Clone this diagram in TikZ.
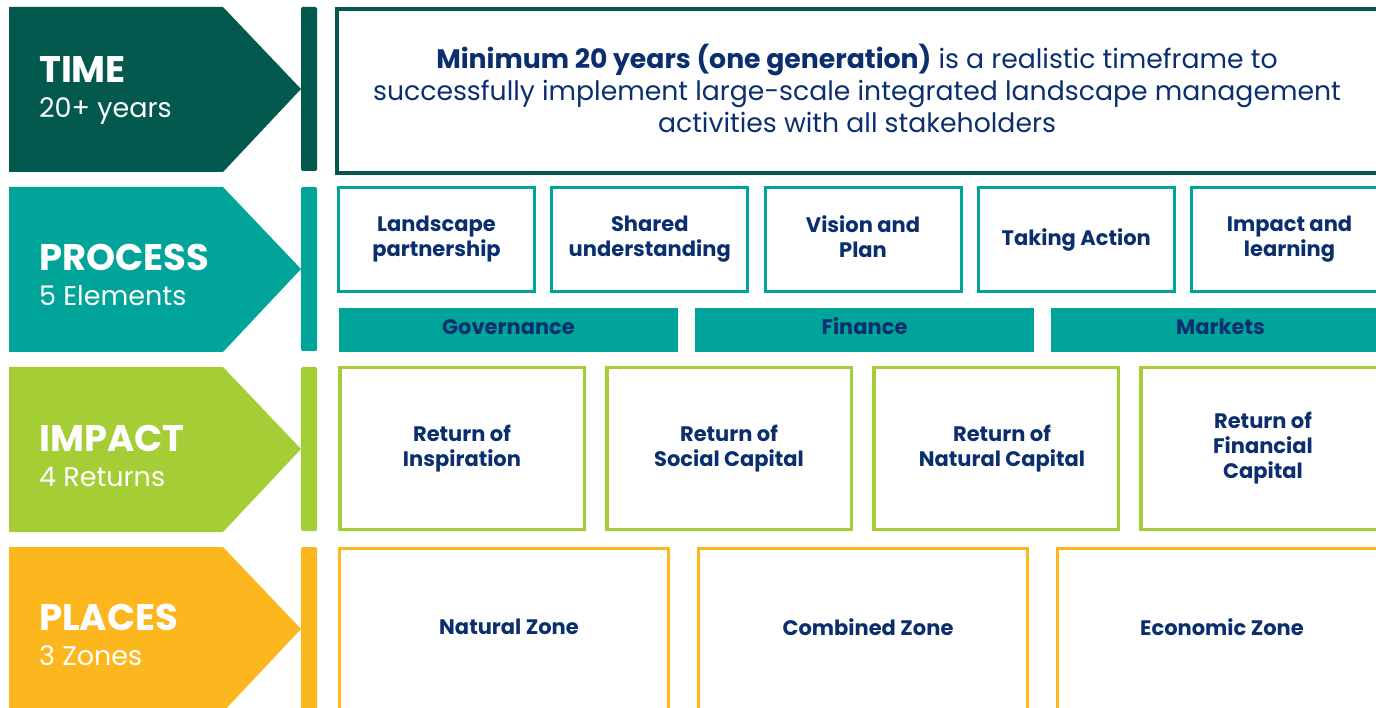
\documentclass[tikz,border=0pt]{standalone}
\usepackage{fontspec}
\setmainfont{Poppins}
\usepackage{tikz}
\usetikzlibrary{positioning}
\definecolor{timegreen}{HTML}{03594E}
\definecolor{processteal}{HTML}{00A499}
\definecolor{impactlime}{HTML}{A4CD36}
\definecolor{placesyellow}{HTML}{FDB71E}
\definecolor{textnavy}{HTML}{0B2E6F}

\begin{document}
\begin{tikzpicture}[x=1pt,y=-1pt,
  rowtitle/.style={anchor=base west,inner sep=0pt,text=white,font=\bfseries\fontsize{37}{40}\selectfont},
  rowsub/.style={anchor=base west,inner sep=0pt,text=white,font=\fontsize{27}{30}\selectfont},
  boxtext/.style={align=center,text=textnavy,inner sep=0pt,font=\bfseries\fontsize{21}{25}\selectfont},
  procbox/.style={boxtext,draw=processteal,line width=3pt,minimum width=196pt,minimum height=104pt},
  pillarbar/.style={boxtext,fill=processteal,text height=15pt,text depth=6pt,minimum width=339pt,minimum height=44pt},
  returnbox/.style={draw=impactlime,line width=3.5pt,minimum width=244.5pt,minimum height=161.5pt},
  zonebox/.style={draw=placesyellow,line width=3pt,minimum width=329pt,minimum height=162pt}]
\useasboundingbox (0,0) rectangle (1376,708);
\clip (0,0) rectangle (1376,708);
%arrows and bars
\foreach \y/\dy/\col/\name/\head/\sub in {7/0/timegreen/time/TIME/20+ years,
    187/8/processteal/process/PROCESS/5 Elements,
    367/8/impactlime/impact/IMPACT/4 Returns,
    547/7/placesyellow/places/PLACES/3 Zones}
{
  \fill[\col] (9,\y) -- (223,\y) -- (301,\y+82) -- (223,\y+165) -- (9,\y+165) -- cycle;
  \fill[\col,rounded corners=1.5pt] (301,\y) rectangle (317,\y+164);
  \node[rowtitle] (\name-head) at (39,\y+76+\dy) {\head};
  \node[rowsub] (\name-sub) at (39,\y+111+\dy) {\sub};
}
%time
\node[draw=timegreen,line width=4pt,minimum width=1055pt,minimum height=164pt] (timebox) at (864.5,91) {};
\node[align=center,text=textnavy,font=\fontsize{26.7}{32}\selectfont] (timetext) at (857,88)
  {\textbf{Minimum 20 years (one generation)} is a realistic timeframe to\\
   successfully implement large-scale integrated landscape management\\
   activities with all stakeholders};
%process
\foreach \i/\txt in {0/{Landscape\\partnership},1/{Shared\\understanding},2/{Vision and\\Plan\vphantom{p}},
    3/{Taking Action},4/{Impact and\\learning}}
  \node[procbox] (element\i) at (436.5+213.25*\i,239.5) {\txt};
\foreach \i/\txt in {0/Governance,1/Finance,2/Markets}
  \node[pillarbar] (pillar\i) at (508.5+356*\i,330) {\txt};
%impact
\foreach \i/\dx/\txt in {0/0/{Return of\\Inspiration},1/0/{Return of\\Social Capital},
    2/6/{Return of\\Natural Capital},3/0/{Return of\\Financial\\Capital}}
{
  \node[returnbox] (return\i) at (462+267*\i,448.5) {};
  \node[boxtext] (returntext\i) at ([xshift=\dx pt]return\i) {\txt};
}
%places
\foreach \i/\dx/\txt in {0/5/Natural Zone,1/5/Combined Zone,2/0/Economic Zone}
{
  \node[zonebox] (zone\i) at (504+359*\i,629.5) {};
  \node[boxtext] (zonetext\i) at ([xshift=\dx pt,yshift=2.5pt]zone\i) {\txt};
}
\end{tikzpicture}
\end{document}
